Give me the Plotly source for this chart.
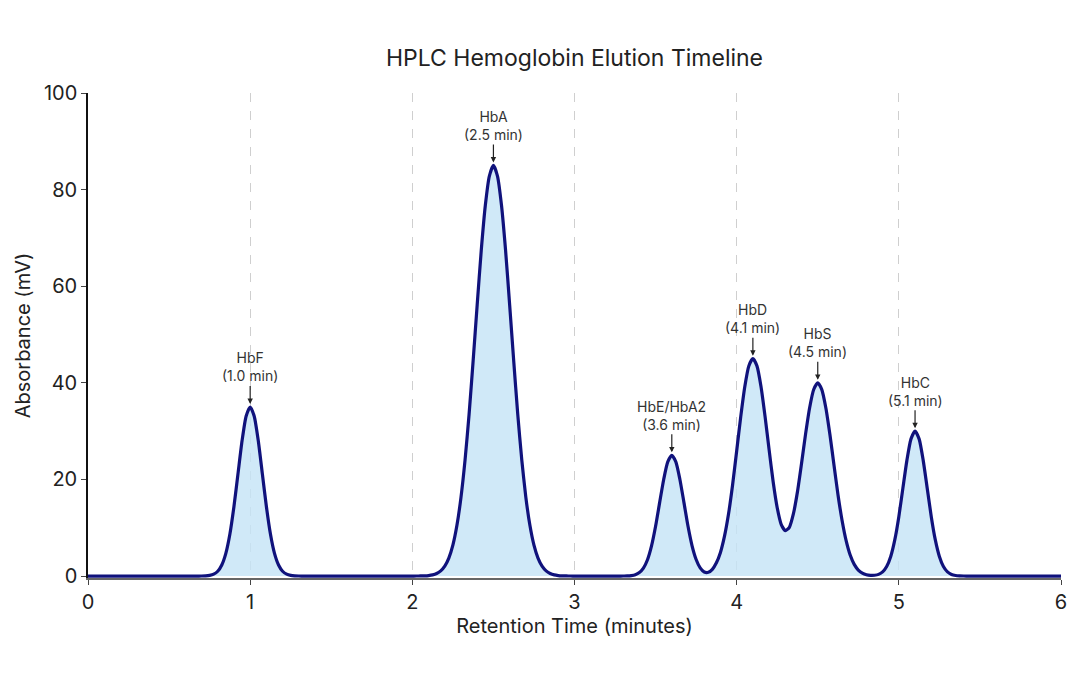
import plotly.graph_objects as go

# retention time (min) and detector signal (mV), by region
tempo_ini = [0.0, 0.675]
sinal_ini = [0.0, 0.0]

tempo_f = [0.7, 0.725, 0.75, 0.775, 0.8, 0.825, 0.85, 0.875, 0.9, 0.925, 0.95, 0.975, 1.0,
           1.025, 1.05, 1.075, 1.1, 1.125, 1.15, 1.175, 1.2, 1.225, 1.25, 1.275, 1.3, 1.325]
sinal_f = [0.01, 0.04, 0.14, 0.39, 1.0, 2.3, 4.7, 8.7, 14.4, 21.2, 28.0, 33.1, 35.0,
           33.1, 28.0, 21.2, 14.4, 8.7, 4.7, 2.3, 1.0, 0.39, 0.14, 0.04, 0.01, 0.0]

tempo_a = [2.0, 2.025, 2.05, 2.075, 2.1, 2.125, 2.15, 2.175, 2.2, 2.225, 2.25, 2.275, 2.3, 2.325,
           2.35, 2.375, 2.4, 2.425, 2.45, 2.475, 2.5, 2.525, 2.55, 2.575, 2.6, 2.625, 2.65,
           2.675, 2.7, 2.725, 2.75, 2.775, 2.8, 2.825, 2.85, 2.875, 2.9, 2.925, 2.95, 2.975, 3.0]
sinal_a = [0.0, 0.01, 0.02, 0.05, 0.11, 0.25, 0.54, 1.08, 2.06, 3.73, 6.4, 10.5, 16.3, 24.0,
           33.5, 44.6, 56.2, 67.4, 76.7, 82.8, 85.0, 82.8, 76.7, 67.4, 56.2, 44.6, 33.5,
           24.0, 16.3, 10.5, 6.4, 3.73, 2.06, 1.08, 0.54, 0.25, 0.11, 0.05, 0.02, 0.01, 0.0]

tempo_esdc = [3.275, 3.3, 3.325, 3.35, 3.375, 3.4, 3.425, 3.45, 3.475, 3.5, 3.525, 3.55, 3.575,
              3.6, 3.625, 3.65, 3.675, 3.7, 3.725, 3.75, 3.775, 3.8, 3.825, 3.85, 3.875, 3.9,
              3.925, 3.95, 3.975, 4.0, 4.025, 4.05, 4.075, 4.1, 4.125, 4.15, 4.175, 4.2, 4.225,
              4.25, 4.275, 4.3, 4.325, 4.35, 4.375, 4.4, 4.425, 4.45, 4.475, 4.5, 4.525, 4.55,
              4.575, 4.6, 4.625, 4.65, 4.675, 4.7, 4.725, 4.75, 4.775, 4.8, 4.825, 4.85, 4.875,
              4.9, 4.925, 4.95, 4.975, 5.0, 5.025, 5.05, 5.075, 5.1, 5.125, 5.15, 5.175, 5.2,
              5.225, 5.25, 5.275, 5.3, 5.325, 5.35, 5.375, 5.4, 5.425]
sinal_esdc = [0.0, 0.01, 0.03, 0.1, 0.28, 0.72, 1.64, 3.38, 6.24, 10.3, 15.2, 20.0, 23.65,
              25.0, 23.65, 20.0, 15.2, 10.3, 6.26, 3.43, 1.7, 0.85, 0.78, 1.4, 2.75, 4.9,
              8.25, 12.9, 18.9, 25.9, 32.95, 39.2, 43.5, 45.0, 43.5, 39.25, 33.06, 26.17, 19.51,
              14.15, 10.67, 9.4, 10.1, 12.91, 17.48, 23.31, 29.43, 34.85, 38.62, 40.0, 38.6, 34.8,
              29.3, 23.0, 16.8, 11.5, 7.33, 4.36, 2.42, 1.25, 0.61, 0.28, 0.15, 0.17, 0.35,
              0.86, 1.97, 4.06, 7.48, 12.3, 18.2, 24.0, 28.4, 30.0, 28.4, 24.0, 18.2, 12.3,
              7.48, 4.06, 1.97, 0.86, 0.33, 0.12, 0.04, 0.01, 0.0]

tempo_fim = [6.0]
sinal_fim = [0.0]

tempo = tempo_ini + tempo_f + tempo_a + tempo_esdc + tempo_fim
sinal = sinal_ini + sinal_f + sinal_a + sinal_esdc + sinal_fim

# picos identificados
picos = ['HbF', 'HbA', 'HbE/HbA2', 'HbD', 'HbS', 'HbC']
pico_tempo = [1.0, 2.5, 3.6, 4.1, 4.5, 5.1]
pico_altura = [35, 85, 25, 45, 40, 30]

fonte = 'Inter, Roboto, sans-serif'

fig = go.Figure()

fig.add_trace(go.Scatter(x=tempo, y=sinal,
                         mode='lines',
                         line=dict(color='#10127c', width=3.2, shape='spline', smoothing=0.6),
                         fill='tozeroy',
                         fillcolor='rgba(196,228,246,0.8)',
                         showlegend=False,
                         hoverinfo='skip'))

for nome, t, h in zip(picos, pico_tempo, pico_altura):
    fig.add_annotation(x=t, y=h,
                       text='%s<br>(%.1f min)' % (nome, t),
                       showarrow=True, arrowhead=2, arrowsize=0.9, arrowwidth=1.2,
                       arrowcolor='#222222', ax=0, ay=-40, standoff=3,
                       font=dict(family=fonte, size=14, color='#333333'))

# a pagina tem 8px de margem no body
fig.update_layout(
    width=1064, height=668,
    paper_bgcolor='white', plot_bgcolor='white',
    margin=dict(l=80, r=11, t=85, b=98, autoexpand=False),
    font=dict(family=fonte, color='#222222'),
    title=dict(text='HPLC Hemoglobin Elution Timeline', x=0.5, xref='paper',
               y=1 - 50 / 668, yref='container', xanchor='center', yanchor='middle',
               font=dict(family=fonte, size=23, color='#222222')),
)

fig.update_xaxes(range=[0, 6], dtick=1, tick0=0, automargin=False,
                 showline=True, linecolor='#666666', linewidth=1.5,
                 ticks='outside', ticklen=5, tickcolor='#444444',
                 showgrid=True, gridcolor='#cfcfcf', griddash='dash', gridwidth=1,
                 zeroline=False,
                 tickfont=dict(size=20, color='#222222'),
                 title=dict(text='Retention Time (minutes)', font=dict(size=20, color='#222222'),
                            standoff=6))

fig.update_yaxes(range=[-0.4, 100], tickvals=[0, 20, 40, 60, 80, 100], automargin=False,
                 showline=True, linecolor='#111111', linewidth=1.5,
                 ticks='outside', ticklen=5, tickcolor='#444444',
                 showgrid=False, zeroline=False,
                 tickfont=dict(size=20, color='#222222'),
                 title=dict(text='Absorbance (mV)', font=dict(size=20, color='#222222'),
                            standoff=8))

fig.write_html("out.html")
